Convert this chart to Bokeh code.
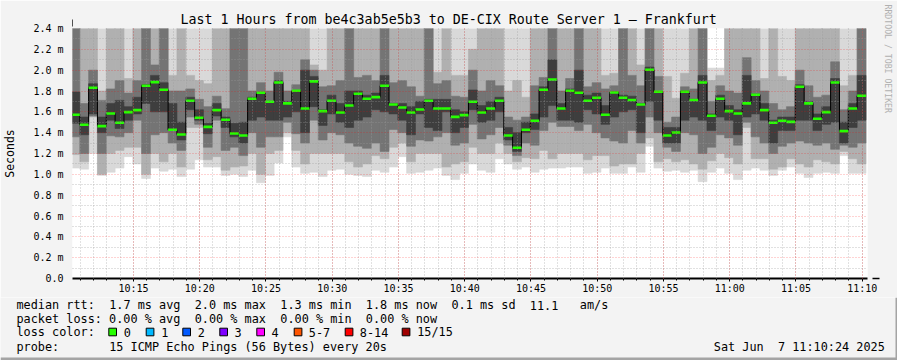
import re
from math import pi
from bokeh.plotting import figure
from bokeh.layouts import column
from bokeh.models import Label, Arrow, NormalHead, FixedTicker, Range1d, ColumnDataSource
from bokeh.core.properties import value
from bokeh.embed import file_html
from bokeh.resources import INLINE

# ---------------- data ----------------
t_start = 36624          # 10:10:24 (seconds of day)
t_end = 40224            # 11:10:24
col_first = 36617        # start of the first 40 s consolidation column
col_step = 40

median = [1.572, 1.476, 1.831, 1.463, 1.584, 1.495, 1.597, 1.616, 1.850, 1.885,
          1.812, 1.428, 1.383, 1.706, 1.543, 1.456, 1.616, 1.524, 1.392, 1.373,
          1.725, 1.783, 1.697, 1.882, 1.681, 1.802, 1.632, 1.892, 1.607, 1.706,
          1.594, 1.661, 1.773, 1.725, 1.741, 1.850, 1.671, 1.642, 1.594, 1.623,
          1.706, 1.632, 1.632, 1.552, 1.568, 1.697, 1.594, 1.632, 1.706, 1.373,
          1.255, 1.428, 1.514, 1.812, 1.911, 1.632, 1.802, 1.783, 1.706, 1.735,
          1.572, 1.786, 1.735, 1.713, 1.671, 2.004, 1.793, 1.373, 1.402, 1.793,
          1.713, 1.882, 1.562, 1.725, 1.607, 1.584, 1.681, 1.764, 1.616, 1.495,
          1.514, 1.504, 1.841, 1.681, 1.533, 1.597, 1.882, 1.415, 1.632, 1.754]

# smoke bands (outer -> inner): lo1/hi1 lightest ... lo4/hi4 darkest core
lo1 = [1.06, 1.05, 1.20, 0.99, 1.02, 1.06, 1.17, 1.10, 0.96, 1.06,
       1.03, 1.05, 0.98, 1.05, 1.14, 1.07, 1.07, 0.99, 1.00, 0.98,
       1.04, 0.92, 0.99, 1.11, 1.36, 1.07, 1.01, 1.02, 0.98, 1.04,
       1.05, 1.00, 0.99, 0.98, 1.04, 1.02, 1.07, 1.17, 1.01, 1.02,
       1.04, 1.06, 0.99, 0.95, 1.01, 1.10, 1.04, 1.02, 1.15, 1.10,
       1.05, 1.07, 1.02, 1.05, 1.06, 1.06, 1.07, 1.07, 1.01, 1.02,
       1.06, 1.01, 1.01, 1.07, 1.02, 1.27, 1.06, 1.03, 1.04, 1.02,
       1.04, 0.93, 1.02, 1.06, 1.01, 0.95, 1.04, 1.06, 1.04, 0.99,
       1.04, 1.07, 1.01, 0.97, 1.01, 1.02, 1.01, 1.18, 1.01, 1.01]
lo2 = [1.19, 1.12, 1.55, 1.00, 1.20, 1.23, 1.26, 1.26, 1.00, 1.20,
       1.12, 1.20, 1.07, 1.45, 1.45, 1.14, 1.17, 1.04, 1.07, 1.08,
       1.20, 1.00, 1.20, 1.23, 1.40, 1.23, 1.10, 1.20, 1.20, 1.20,
       1.20, 1.12, 1.07, 1.10, 1.18, 1.15, 1.26, 1.30, 1.12, 1.20,
       1.20, 1.20, 1.07, 1.10, 1.12, 1.26, 1.20, 1.20, 1.30, 1.20,
       1.12, 1.16, 1.15, 1.23, 1.15, 1.20, 1.20, 1.20, 1.14, 1.18,
       1.18, 1.08, 1.10, 1.10, 1.20, 1.35, 1.12, 1.15, 1.12, 1.14,
       1.10, 1.05, 1.13, 1.20, 1.16, 1.10, 1.45, 1.15, 1.15, 1.05,
       1.07, 1.15, 1.10, 1.07, 1.14, 1.12, 1.10, 1.22, 1.15, 1.10]
lo3 = [1.36, 1.20, 1.56, 1.20, 1.37, 1.36, 1.40, 1.52, 1.20, 1.38,
       1.40, 1.30, 1.23, 1.55, 1.48, 1.26, 1.52, 1.23, 1.26, 1.18,
       1.40, 1.26, 1.36, 1.36, 1.50, 1.39, 1.30, 1.52, 1.33, 1.40,
       1.38, 1.30, 1.27, 1.25, 1.30, 1.22, 1.43, 1.40, 1.27, 1.33,
       1.32, 1.36, 1.40, 1.28, 1.30, 1.48, 1.34, 1.38, 1.45, 1.28,
       1.18, 1.30, 1.28, 1.42, 1.50, 1.46, 1.46, 1.42, 1.48, 1.40,
       1.35, 1.32, 1.30, 1.42, 1.30, 1.55, 1.40, 1.26, 1.22, 1.40,
       1.38, 1.20, 1.26, 1.38, 1.35, 1.28, 1.50, 1.36, 1.30, 1.20,
       1.27, 1.30, 1.32, 1.30, 1.28, 1.30, 1.24, 1.28, 1.26, 1.30]
lo4 = [1.49, 1.38, 1.58, 1.40, 1.52, 1.44, 1.52, 1.58, 1.68, 1.60,
       1.60, 1.42, 1.33, 1.62, 1.52, 1.39, 1.56, 1.45, 1.36, 1.30,
       1.52, 1.55, 1.52, 1.52, 1.55, 1.60, 1.40, 1.65, 1.47, 1.58,
       1.50, 1.45, 1.52, 1.55, 1.62, 1.60, 1.58, 1.52, 1.38, 1.58,
       1.45, 1.42, 1.60, 1.40, 1.45, 1.62, 1.50, 1.52, 1.60, 1.33,
       1.22, 1.40, 1.43, 1.55, 1.66, 1.52, 1.52, 1.50, 1.62, 1.58,
       1.48, 1.55, 1.60, 1.62, 1.40, 1.70, 1.52, 1.30, 1.30, 1.52,
       1.55, 1.52, 1.42, 1.55, 1.52, 1.38, 1.55, 1.58, 1.52, 1.30,
       1.42, 1.42, 1.52, 1.52, 1.42, 1.48, 1.50, 1.30, 1.45, 1.52]
hi4 = [1.79, 1.55, 1.87, 1.55, 1.68, 1.71, 1.65, 1.74, 1.86, 1.95,
       1.88, 1.68, 1.50, 1.74, 1.62, 1.49, 1.68, 1.55, 1.49, 1.50,
       1.74, 1.78, 1.70, 1.90, 1.70, 1.80, 2.00, 1.94, 1.62, 1.76,
       1.68, 1.80, 1.80, 1.76, 1.78, 1.95, 1.68, 1.68, 1.65, 1.70,
       1.72, 1.72, 1.72, 1.62, 1.60, 1.81, 1.66, 1.70, 1.74, 1.45,
       1.40, 1.50, 1.58, 1.84, 2.10, 1.68, 1.82, 2.00, 1.76, 1.78,
       1.66, 1.79, 1.76, 1.75, 1.68, 2.03, 1.79, 1.45, 1.45, 1.80,
       1.72, 1.95, 1.58, 1.76, 1.66, 1.62, 1.95, 1.77, 1.68, 1.52,
       1.55, 1.55, 1.86, 1.70, 1.58, 1.65, 1.92, 1.50, 1.68, 1.95]
hi3 = [2.50, 1.68, 2.00, 1.71, 1.82, 1.90, 1.78, 1.90, 2.50, 2.05,
       2.50, 1.80, 1.80, 1.82, 1.72, 1.65, 1.75, 1.63, 2.50, 2.50,
       1.80, 1.88, 1.80, 1.98, 1.80, 1.86, 2.10, 2.00, 1.84, 1.85,
       1.90, 2.50, 1.93, 1.95, 1.90, 2.50, 1.88, 1.90, 1.84, 1.75,
       2.50, 1.87, 1.90, 1.75, 1.74, 2.00, 1.80, 1.90, 1.85, 1.55,
       1.52, 1.55, 1.85, 1.93, 2.50, 1.80, 1.92, 2.50, 1.84, 1.88,
       1.82, 1.85, 2.50, 1.95, 1.85, 2.50, 1.94, 1.50, 1.55, 1.84,
       1.82, 2.50, 1.70, 1.85, 1.80, 1.78, 2.12, 1.90, 1.80, 1.68,
       1.62, 1.65, 2.00, 1.85, 1.74, 1.76, 2.08, 1.62, 1.80, 2.50]
hi2 = [2.50, 2.50, 2.50, 1.80, 2.50, 2.50, 1.92, 2.50, 2.50, 2.50,
       2.50, 1.95, 2.50, 1.95, 1.90, 1.87, 2.50, 2.50, 2.50, 2.50,
       2.50, 2.50, 2.50, 2.50, 2.50, 2.50, 2.50, 2.05, 2.00, 2.50,
       2.50, 2.50, 2.50, 2.50, 2.50, 2.50, 2.50, 2.50, 2.50, 2.50,
       2.50, 1.98, 2.50, 1.95, 1.95, 2.20, 2.50, 2.50, 2.50, 1.80,
       1.90, 1.74, 2.50, 2.50, 2.50, 2.50, 2.50, 2.50, 2.50, 2.50,
       1.95, 1.97, 2.50, 2.50, 2.05, 2.50, 2.50, 1.94, 1.73, 1.97,
       2.50, 2.50, 1.90, 1.95, 2.50, 2.50, 2.50, 2.50, 1.92, 2.50,
       1.94, 1.90, 2.50, 2.50, 2.50, 2.50, 2.50, 1.85, 1.95, 2.50]
hi1 = [2.50, 2.50, 2.50, 2.50, 2.50, 2.50, 2.50, 2.50, 2.50, 2.50,
       2.50, 2.50, 2.50, 2.50, 2.50, 2.50, 2.50, 2.50, 2.50, 2.50,
       2.50, 2.50, 2.50, 2.50, 2.50, 2.50, 2.50, 2.50, 2.50, 2.50,
       2.50, 2.50, 2.50, 2.50, 2.50, 2.50, 2.50, 2.50, 2.50, 2.50,
       2.50, 2.50, 2.50, 2.50, 2.50, 2.50, 2.50, 2.50, 2.50, 2.50,
       2.50, 2.50, 2.50, 2.50, 2.50, 2.50, 2.50, 2.50, 2.50, 2.50,
       2.50, 2.50, 2.50, 2.50, 2.50, 2.50, 2.50, 2.50, 2.50, 2.50,
       2.50, 2.50, 2.02, 2.02, 2.50, 2.50, 2.50, 2.50, 2.50, 2.50,
       2.50, 2.50, 2.50, 2.50, 2.50, 2.50, 2.50, 2.50, 2.50, 2.50]

y_ticks = [0.0, 0.2, 0.4, 0.6, 0.8, 1.0, 1.2, 1.4, 1.6, 1.8, 2.0, 2.2, 2.4]
y_labels = ["0.0", "0.2 m", "0.4 m", "0.6 m", "0.8 m", "1.0 m", "1.2 m", "1.4 m",
            "1.6 m", "1.8 m", "2.0 m", "2.2 m", "2.4 m"]
x_tick_labels = ["10:15", "10:20", "10:25", "10:30", "10:35", "10:40",
                 "10:45", "10:50", "10:55", "11:00", "11:05", "11:10"]

loss_names = ["0", "1", "2", "3", "4", "5-7", "8-14", "15/15"]
loss_colors = ["#26ff00", "#00b8ff", "#0059ff", "#7e00ff", "#ff00ff", "#ff5500", "#ff0000", "#a00000"]

title_text = "Last 1 Hours from be4c3ab5e5b3 to DE-CIX Route Server 1 \u2013 Frankfurt"
legend_lines = [
    "median rtt:  1.7 ms avg  2.0 ms max  1.3 ms min  1.8 ms now  0.1 ms sd  11.1   am/s",
    "packet loss: 0.00 % avg  0.00 % max  0.00 % min  0.00 % now",
    "loss color:",
    "probe:       15 ICMP Echo Pings (56 Bytes) every 20s",
]
date_text = "Sat Jun  7 11:10:24 2025"

# ---------------- main chart ----------------
W, H = 897, 360
MAIN_H = 297
FL, FT, FR, FB = 67, 28, 867, 278     # frame edges in canvas px
MONO = "DejaVu Sans Mono"
BG = "#f3f3f3"

p = figure(width=W, height=MAIN_H, x_range=(t_start, t_end), y_range=(0, 2.4),
           output_backend="svg", toolbar_location=None,
           min_border_left=FL, min_border_right=W - FR, min_border_top=FT,
           min_border_bottom=MAIN_H - FB, background_fill_color="white",
           border_fill_color=BG, outline_line_color=None)

n = len(median)
left = [col_first + col_step * k for k in range(n)]
right = [l + col_step for l in left]

band_colors = ["#d9d9d9", "#b0b0b0", "#747474", "#3e3e3e"]
for lo, hi, c in zip([lo1, lo2, lo3, lo4], [hi1, hi2, hi3, hi4], band_colors):
    p.quad(left=left, right=right, bottom=lo, top=hi, fill_color=c,
           line_color=c, line_width=0.6)

p.step(x=left + [right[-1]], y=median + [median[-1]], mode="after",
       line_color="black", line_width=1)
p.segment(x0=left, x1=right, y0=median, y1=median, line_color=loss_colors[0],
          line_width=2.6, line_cap="butt")

major_x = [36900 + 300 * i for i in range(len(x_tick_labels))]
minor_x = [36660 + 60 * i for i in range(60)]
p.xaxis.ticker = FixedTicker(ticks=major_x, minor_ticks=minor_x)
p.xaxis.major_label_overrides = {t: lab for t, lab in zip(major_x, x_tick_labels)}
minor_y = [round(0.1 + 0.2 * i, 1) for i in range(12)]
p.yaxis.ticker = FixedTicker(ticks=y_ticks, minor_ticks=minor_y)
p.yaxis.major_label_overrides = {t: lab for t, lab in zip(y_ticks, y_labels)}

for ax in (p.xaxis[0], p.yaxis[0]):
    ax.major_label_text_font = MONO
    ax.major_label_text_font_size = "10px"
    ax.major_label_text_color = "black"
xa = p.xaxis[0]
xa.axis_line_color = "black"
xa.axis_line_width = 2
xa.major_tick_line_color = "black"
xa.minor_tick_line_color = "black"
xa.major_tick_in = 0
xa.major_tick_out = 3
xa.minor_tick_in = 0
xa.minor_tick_out = 2
xa.major_label_standoff = 1
ya = p.yaxis[0]
ya.axis_line_color = None
ya.major_tick_line_color = None
ya.minor_tick_line_color = None
ya.major_tick_out = 2
ya.major_label_standoff = 5
ya.axis_label = "Seconds"
ya.axis_label_text_font = MONO
ya.axis_label_text_font_size = "11.5px"
ya.axis_label_text_font_style = "normal"
ya.axis_label_text_color = "black"
ya.axis_label_standoff = 13

for g in (p.xgrid[0], p.ygrid[0]):
    g.level = "overlay"
    g.grid_line_color = "#ff0000"
    g.grid_line_alpha = 0.35
    g.grid_line_dash = "1 2"
    g.minor_grid_line_color = "#9a9a9a"
    g.minor_grid_line_alpha = 0.6
    g.minor_grid_line_dash = "1 2"

head_c = "#a01818"
p.add_layout(Arrow(x_start=0, y_start=FB - FT, x_end=0, y_end=FB - 19,
                   start_units="screen", end_units="screen", line_color="#505050",
                   line_width=1,
                   end=NormalHead(size=7, fill_color=head_c, line_color=head_c, line_width=1)))
p.add_layout(Arrow(x_start=FR - FL - 1, y_start=0, x_end=874 - FL, y_end=0,
                   start_units="screen", end_units="screen", line_color="black",
                   line_width=1.5,
                   end=NormalHead(size=7, fill_color=head_c, line_color=head_c, line_width=1)))

# texts outside the frame live in side panels (not clipped), placed in canvas px
p.add_layout(Label(x=180, y=19, x_units="canvas", y_units="canvas", text=title_text,
                   text_align="left", text_baseline="middle", text_font=MONO,
                   text_font_size="13.3px", text_color="black"), "above")
p.add_layout(Label(x=887, y=4, x_units="canvas", y_units="canvas",
                   text="RRDTOOL / TOBI OETIKER", angle=-pi / 2, text_align="left",
                   text_baseline="middle", text_font=MONO, text_font_size="8.2px",
                   text_color="#b0b0b0"), "right")

# ---------------- legend strip ----------------
LEG_H = H - MAIN_H
q = figure(width=W, height=LEG_H, x_range=Range1d(0, W), y_range=Range1d(H, MAIN_H),
           output_backend="svg", toolbar_location=None, x_axis_type=None,
           y_axis_type=None, min_border=0, min_border_left=0, min_border_right=0,
           min_border_top=0, min_border_bottom=0, background_fill_color=BG,
           border_fill_color=BG, outline_line_color=None)
q.grid.visible = False

for fig in (p, q):
    try:
        fig.frame_align = False
    except Exception:
        pass

CW = 7.13
X0 = 16
line_y = [304.5, 318, 331.5, 346]
tx, ty, tt = [], [], []

def put_line(txt, x0, cy):
    for m in re.finditer(r"\S+(?: \S+)*", txt):
        tx.append(x0 + CW * m.start())
        ty.append(cy)
        tt.append(m.group(0))

for txt, cy in zip(legend_lines, line_y):
    put_line(txt, X0, cy)
put_line(date_text, 713.3, line_y[3])

box_x = [108.3, 145.7, 182.3, 219.3, 256.3, 293.7, 344.7, 401.7]
name_x = [123.3, 160.7, 197.3, 234.0, 271.0, 308.3, 359.3, 416.7]
for nx, name in zip(name_x, loss_names):
    tx.append(nx)
    ty.append(line_y[2])
    tt.append(name)

q.text(x="x", y="y", text="t", source=ColumnDataSource(dict(x=tx, y=ty, t=tt)),
       text_font=value(MONO), text_font_size=value("11.84px"), text_align="left",
       text_baseline="middle", text_color="black")
q.quad(left=box_x, right=[b + 7.7 for b in box_x], top=[327.7] * len(box_x),
       bottom=[335.3] * len(box_x), fill_color=loss_colors, line_color="black",
       line_width=1)
# rrdtool bottom / right shading
q.quad(left=[0, W - 2], right=[W, W], top=[H - 3, MAIN_H], bottom=[H, H],
       fill_color="#a4a4a4", line_color=None)

layout = column(p, q, spacing=0)
open("out.html", "w").write(file_html(layout, INLINE))
